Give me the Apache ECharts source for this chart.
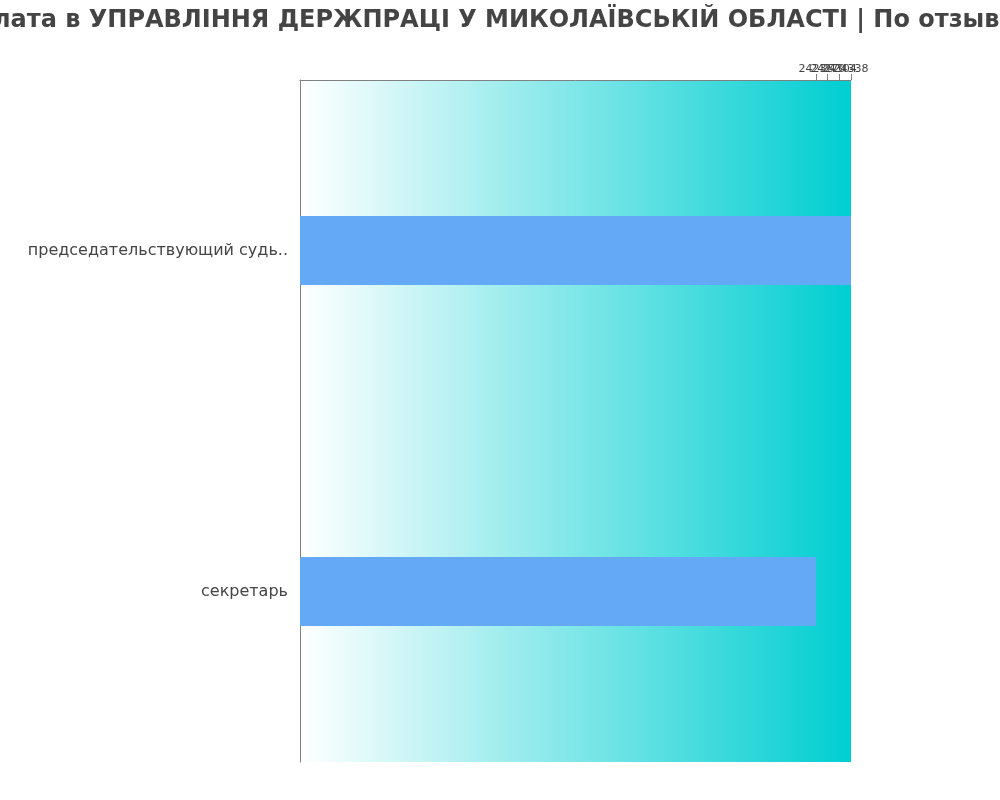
<!DOCTYPE html>
<html>
<head>
<meta charset="utf-8">
<script src="https://cdn.jsdelivr.net/npm/echarts@6/dist/echarts.min.js"></script>
<style>html,body{margin:0;padding:0;background:#fff}#c{width:1000px;height:800px}</style>
</head>
<body>
<div id="c"></div>
<script>
var titleText = 'Зарплата в УПРАВЛІННЯ ДЕРЖПРАЦІ У МИКОЛАЇВСЬКІЙ ОБЛАСТІ | По отзывам';
var categories = ['председательствующий судья', 'секретарь'];
var salaries = [24338, 24236];
var tickValues = [24236, 24270, 24304, 24338];
var axisMin = 22732;
var axisMax = 24338;
var maxLabelChars = 25;

// one top axis per tick label so that overlapping labels are all drawn
var xAxes = tickValues.map(function (v, i) {
  return {
    type: 'value',
    position: 'top',
    min: axisMin,
    max: axisMax,
    splitLine: {show: false},
    axisLine: {show: i === 0, lineStyle: {color: '#808080', width: 1}},
    axisTick: {show: true, customValues: [v], length: 6, lineStyle: {color: '#808080'}},
    axisLabel: {show: true, customValues: [v], showMaxLabel: true, showMinLabel: true,
      formatter: function (val) { return String(val); },
      fontFamily: 'DejaVu Sans', fontSize: 11, color: '#444444', margin: 5}
  };
});

var chart = echarts.init(document.getElementById('c'));
chart.setOption({
  animation: false,
  backgroundColor: '#ffffff',
  graphic: [{
    type: 'text',
    x: -74,
    y: 9,
    style: {
      text: titleText,
      fontFamily: 'DejaVu Sans', fontSize: 24, fontWeight: 'bold', fill: '#444444'
    }
  }],
  grid: {
    left: 300, right: 149, top: 80, bottom: 38,
    show: true,
    borderWidth: 0,
    backgroundColor: new echarts.graphic.LinearGradient(0, 0, 1, 0, [
      {offset: 0, color: '#ffffff'},
      {offset: 1, color: '#00ced1'}
    ])
  },
  xAxis: xAxes,
  yAxis: {
    type: 'category',
    data: categories,
    inverse: true,
    axisLine: {show: true, lineStyle: {color: '#808080', width: 1}},
    axisTick: {show: false},
    axisLabel: {
      fontFamily: 'DejaVu Sans', fontSize: 16, color: '#444444', margin: 12,
      formatter: function (s) { return s.length > maxLabelChars ? s.slice(0, maxLabelChars) + '..' : s; }
    }
  },
  series: [{
    type: 'bar',
    data: salaries,
    barWidth: 69,
    itemStyle: {color: '#63a9f5'}
  }]
});
</script>
</body>
</html>
